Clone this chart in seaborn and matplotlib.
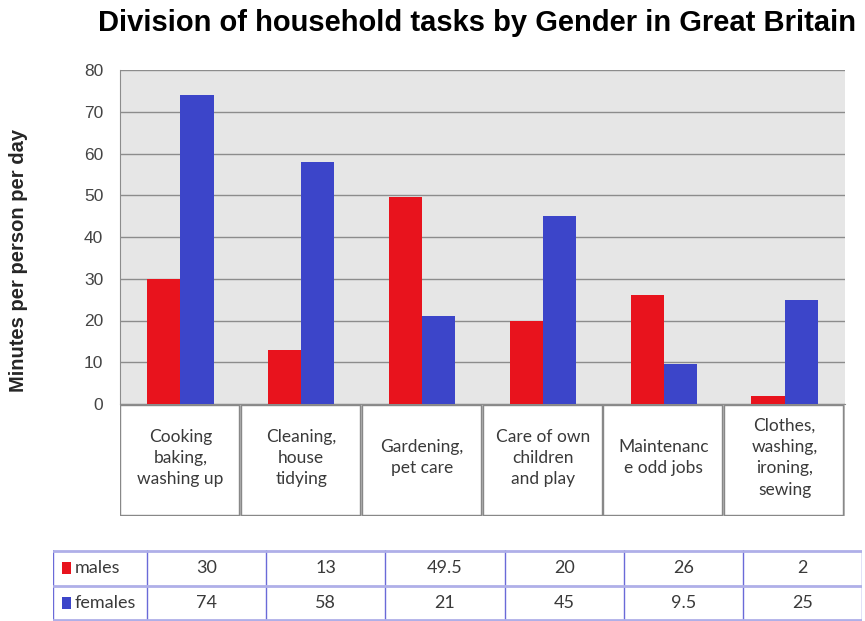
import pandas as pd
import numpy as np
import matplotlib
matplotlib.use("Agg")
import matplotlib.pyplot as plt
import seaborn as sns
from matplotlib.patches import Rectangle

# data
categories = ["Cooking\nbaking,\nwashing up", "Cleaning,\nhouse\ntidying", "Gardening,\npet care",
              "Care of own\nchildren\nand play", "Maintenanc\ne odd jobs", "Clothes,\nwashing,\nironing,\nsewing"]
males = [30, 13, 49.5, 20, 26, 2]
females = [74, 58, 21, 45, 9.5, 25]
males_labels = ["30", "13", "49.5", "20", "26", "2"]
females_labels = ["74", "58", "21", "45", "9.5", "25"]

red = "#E8131D"
blue = "#3C45C9"

df = pd.DataFrame({
    "task": list(range(6)) * 2,
    "minutes": males + females,
    "gender": ["males"] * 6 + ["females"] * 6,
})

sns.set_style("white")
plt.rcParams["font.family"] = ["Liberation Sans", "DejaVu Sans"]

fig = plt.figure(figsize=(8.65, 6.21), dpi=100)
W, H = 865, 621

def frac(x0, y0, x1, y1):
    return [x0 / W, 1 - y1 / H, (x1 - x0) / W, (y1 - y0) / H]

# main bar area
ax = fig.add_axes(frac(120, 70, 845, 404))
ax.set_facecolor("#E6E6E6")
sns.barplot(data=df, x="task", y="minutes", hue="gender", palette=[red, blue],
            width=0.55, saturation=1, ax=ax, legend=False, zorder=3,
            edgecolor="none", linewidth=0)
ax.set_xlim(-0.5, 5.5)
ax.set_ylim(0, 80)
ax.set_yticks(range(0, 81, 10))
ax.yaxis.grid(True, color="#8C8C8C", linewidth=1, zorder=0)
ax.set_axisbelow(True)
ax.set_xticks([])
ax.set_xlabel("")
ax.set_ylabel("Minutes per person per day", fontsize=14.5, fontweight="bold")
ax.yaxis.set_label_coords(-0.127, 0.43)
ax.tick_params(axis="y", length=0, labelsize=12.5, labelcolor="#444444", pad=12)
for s in ["top", "right"]:
    ax.spines[s].set_visible(False)
ax.spines["left"].set_color("#8C8C8C")
ax.spines["bottom"].set_color("#8C8C8C")

fig.text(477 / W, 1 - 23 / H, "Division of household tasks by Gender in Great Britain",
         ha="center", va="center", fontsize=21, fontweight="bold", color="black")

# category boxes under the bars
cax = fig.add_axes(frac(120, 404, 845, 516))
cax.set_xlim(-0.5, 5.5)
cax.set_ylim(0, 1)
cax.axis("off")
for i, cat in enumerate(categories):
    cax.add_patch(Rectangle((i - 0.5 + 0.01, 0.0), 0.98, 0.985, facecolor="none",
                            edgecolor="#BBBBBB", linewidth=2.2))
    cax.add_patch(Rectangle((i - 0.5, 0.01), 0.985, 0.985, facecolor="white",
                            edgecolor="#888888", linewidth=1))
    cax.text(i, 0.52, cat, ha="center", va="center", fontsize=12.5, color="#3A3A3A",
             linespacing=1.4, family=["Lato", "DejaVu Sans"])

# data table
tax = fig.add_axes(frac(53, 550, 862, 621))
tax.set_xlim(0, 1)
tax.set_ylim(0, 2)
tax.axis("off")
line_col = "#6A6AD8"
col_edges = [0, 94 / 809] + [94 / 809 + k * (715 / 809) / 6 for k in range(1, 7)]
for x in col_edges:
    tax.plot([x, x], [0, 2], color=line_col, linewidth=1)
for y in [0.02, 1.0, 1.98]:
    tax.plot([0, 1], [y, y], color="#AFAFE8", linewidth=2)
rows = [("males", red, males_labels, 1.5), ("females", blue, females_labels, 0.5)]
for name, col, labels, y in rows:
    tax.add_patch(Rectangle((0.011, y - 0.17), 0.011, 0.34, facecolor=col, edgecolor="none"))
    tax.text(0.027, y, name, ha="left", va="center", fontsize=13, color="#3A3A3A",
             family=["Lato", "DejaVu Sans"])
    for k, lab in enumerate(labels):
        xc = (col_edges[k + 1] + col_edges[k + 2]) / 2
        tax.text(xc, y, lab, ha="center", va="center", fontsize=13, color="#3A3A3A",
                 family=["Lato", "DejaVu Sans"])

fig.savefig("out.png", dpi=100)
